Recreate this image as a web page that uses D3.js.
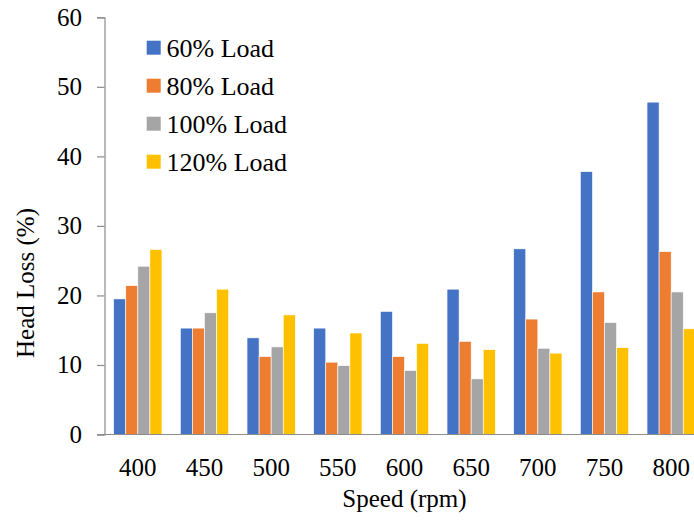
<!DOCTYPE html>
<html><head><meta charset="utf-8">
<script src="https://cdn.jsdelivr.net/npm/d3@7"></script>
<style>
html,body{margin:0;padding:0;background:#fff;overflow:hidden}
text{font-family:"Liberation Serif","Times New Roman",serif;fill:#000}
</style></head>
<body>
<script>
const categories = ["400","450","500","550","600","650","700","750","800"];
const seriesNames = ["60% Load","80% Load","100% Load","120% Load"];
const load60  = [19.5, 15.3, 13.9, 15.3, 17.7, 20.9, 26.7, 37.8, 47.8];
const load80  = [21.4, 15.3, 11.2, 10.4, 11.2, 13.4, 16.6, 20.5, 26.3];
const load100 = [24.2, 17.5, 12.6, 9.9, 9.2, 8.0, 12.4, 16.1, 20.5];
const load120 = [26.6, 20.9, 17.2, 14.6, 13.1, 12.2, 11.7, 12.5, 15.2];
const yTicks = [0,10,20,30,40,50,60];
const colors = ["#4472C4","#ED7D31","#A5A5A5","#FFC000"];
const series = [load60, load80, load100, load120];

(function(){
const W = 694, H = 520;
const svg = d3.select("body").append("svg").attr("width", W).attr("height", H);

const mLeft = 104.5, mRight = 704.5, mTop = 17.3, mBottom = 434.5;
const x0 = d3.scaleBand().domain(categories).range([mLeft, mRight]).paddingInner(0.276).paddingOuter(0.138);
const x1 = d3.scaleBand().domain(d3.range(series.length)).range([0, x0.bandwidth()]);
const y = d3.scaleLinear().domain([0, 60]).range([mBottom, mTop]);

// bars
series.forEach((vals, si) => {
  svg.append("g").selectAll("rect").data(vals).join("rect")
    .attr("x", (d, i) => x0(categories[i]) + x1(si))
    .attr("y", d => y(d))
    .attr("width", x1.bandwidth())
    .attr("height", d => y(0) - y(d))
    .attr("fill", colors[si])
    .attr("stroke", "#fff").attr("stroke-width", 0.6);
});

// y axis
const yAxis = d3.axisLeft(y).tickValues(yTicks).tickSize(7.5).tickPadding(15).tickFormat(d3.format("d"));
const gy = svg.append("g").attr("transform", `translate(${mLeft},0)`).call(yAxis);
gy.select(".domain").attr("stroke", "#8c8c8c").attr("stroke-width", 1.2);
gy.selectAll(".tick line").attr("stroke", "#8c8c8c").attr("stroke-width", 1.2);
gy.selectAll(".tick text").style("font-size", "25px").style("font-family", "Liberation Serif").attr("fill", "#000");

// x axis
const xAxis = d3.axisBottom(x0).tickSize(0).tickPadding(0);
const gx = svg.append("g").attr("transform", `translate(0,${mBottom})`).call(xAxis);
gx.select(".domain").remove();
gx.append("line").attr("x1", mLeft - 7.5).attr("x2", mRight).attr("y1", 0).attr("y2", 0)
  .attr("stroke", "#8c8c8c").attr("stroke-width", 1.2);
gx.selectAll(".tick text").attr("dy", null).attr("y", 41.5)
  .style("font-size", "25px").style("font-family", "Liberation Serif").attr("fill", "#000");

// axis titles
svg.append("text").attr("x", (mLeft + mRight) / 2).attr("y", 507)
  .attr("text-anchor", "middle").style("font-size", "25px").text("Speed (rpm)");
svg.append("text").attr("transform", "translate(34,283) rotate(-90)")
  .attr("text-anchor", "middle").style("font-size", "25px").text("Head Loss (%)");

// legend
const leg = svg.append("g");
seriesNames.forEach((n, i) => {
  const cy = 47.7 + i * 38;
  leg.append("rect").attr("x", 146.7).attr("y", cy - 7).attr("width", 14).attr("height", 14).attr("fill", colors[i]);
  leg.append("text").attr("x", 166.5).attr("y", cy + 8.8).style("font-size", "26px").text(n);
});
})();
</script>
</body></html>
